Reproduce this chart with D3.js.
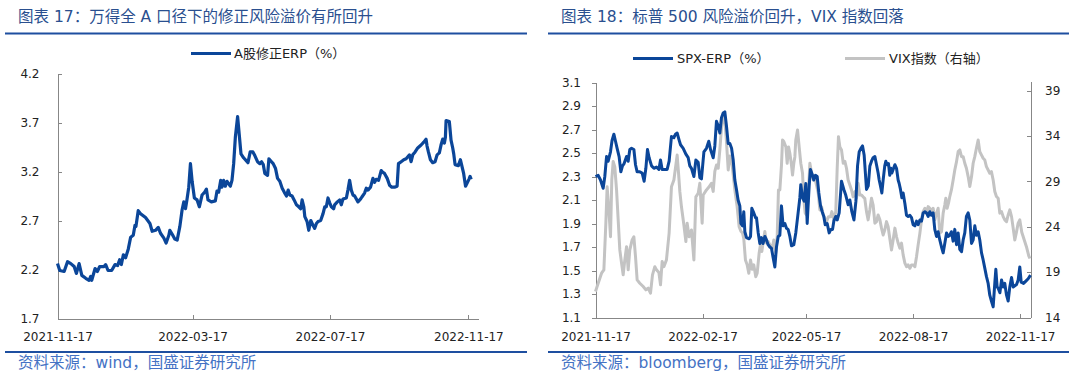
<!DOCTYPE html>
<html><head><meta charset="utf-8">
<script src="https://cdn.jsdelivr.net/npm/d3@7"></script>
<style>
body{margin:0;background:#fff}
svg{display:block}
.ax text{font-family:"DejaVu Sans","Noto Sans CJK SC",sans-serif;font-size:12px;fill:#222}
.ax path,.ax line{stroke:#878787;stroke-width:1;shape-rendering:crispEdges}
</style>
</head><body>
<svg id="c" width="1080" height="379"></svg>
<script>
// ---- data (days after the start date) ----
const startDate = "2021-11-17";
const axisEndDate = "2022-11-26";

const aShareDays = [0,2,5.9,8.9,11.8,14.8,16.8,19.2,21.6,25.1,28,29.5,30.4,33.4,35.4,37.5,41.3,42.8,44.9,48.1,51.1,53.4,55.2,56.7,58.5,60.5,62.9,65,67.3,68.8,69.7,71.7,73.8,78.2,82.1,84.1,87.1,89.5,91.5,94.5,96.5,98.9,99.8,101.9,104.2,106.3,108.7,110.7,112.2,113.7,115.1,116.6,118.1,119.6,121.6,124,126,128.4,130.8,132.3,133.7,136.7,140.2,141.7,143.2,145,146.1,147.6,149.1,150.6,153.5,155,156.5,158,160,161.5,163,165.3,169.2,171.2,173.6,175.4,177.7,179.8,181.3,182.8,184.2,186.6,187.8,190.1,191.6,193.7,195.5,197.5,199.6,201.4,203.4,204.9,206.4,208.4,210.2,212.3,214.3,216.1,217.3,218.8,219.7,221.7,223.2,225,227,228.5,230,231.5,233.8,235.9,237.4,238.8,240.3,241.8,243.3,245.3,246.2,248.6,250.7,252.1,253.6,256.6,258,259.5,261,262.5,264,266.9,269.3,270.4,272.8,274.3,275.8,278.1,280.2,281.7,283.1,285.2,287.6,289.1,290.5,292.9,295,297,299.4,301.7,302.9,305.3,307.6,309.7,311.2,312.7,314.1,315.6,317.7,320,323,325.4,327.4,328.3,329.5,331.3,333.3,335.4,337.2,339.2,340.7,342.2,343.7,344.6,345.2,348.1,349.6,351.1,352,353.2,356.1,357.9,360.8,362.5,363.8,365.5,366.5,367.5];
const aShareERP = [2.26,2.19,2.18,2.28,2.26,2.23,2.16,2.26,2.14,2.11,2.09,2.13,2.09,2.21,2.18,2.23,2.23,2.25,2.19,2.19,2.25,2.24,2.30,2.25,2.35,2.32,2.41,2.53,2.55,2.65,2.64,2.80,2.77,2.73,2.67,2.59,2.60,2.63,2.57,2.52,2.47,2.55,2.60,2.56,2.51,2.50,2.64,2.81,2.89,2.82,2.92,3.04,3.28,3.10,2.93,2.91,2.84,2.96,2.99,3.02,2.91,2.89,2.90,3.00,2.99,3.11,3.04,3.11,3.05,3.10,3.05,3.11,3.28,3.55,3.76,3.57,3.38,3.34,3.29,3.40,3.40,3.36,3.30,3.28,3.30,3.27,3.18,3.16,3.33,3.30,3.28,3.23,3.13,3.10,3.03,2.99,2.95,3.01,2.96,2.95,2.91,2.86,2.84,2.82,2.91,2.84,2.74,2.69,2.60,2.70,2.65,2.62,2.67,2.69,2.70,2.77,2.84,2.84,2.93,2.88,2.84,2.82,2.86,2.89,2.91,2.86,2.92,2.93,3.01,3.11,3.01,2.96,2.95,2.89,2.92,2.94,2.98,3.03,3.01,3.04,3.13,3.09,3.12,3.11,3.21,3.19,3.18,3.13,3.06,3.04,3.04,3.05,3.28,3.30,3.32,3.33,3.35,3.37,3.30,3.37,3.40,3.44,3.47,3.50,3.53,3.46,3.40,3.32,3.29,3.30,3.37,3.39,3.47,3.53,3.49,3.55,3.72,3.71,3.52,3.44,3.38,3.27,3.26,3.32,3.18,3.05,3.08,3.12,3.15,3.12];

const spxDays = [0,2.3,4.3,6.6,8,9.5,10.9,12.9,14.3,15.8,17.2,18.6,20.3,21.8,23.2,24.6,26.7,28.1,29.5,31,33,34.4,35.8,38.1,40.1,41.8,43.3,44.7,46.1,48.2,50.2,52.4,54.5,55.9,57.3,59.6,61.6,63.3,65.3,67.4,68.8,70.2,71.9,73.1,75.4,77.7,79.7,81.1,82.5,84.6,86.3,88.3,89.7,91.1,93.2,95.4,97.4,98.9,101.2,102.6,104,105.5,106.9,108.3,109.8,111.2,112.6,114.1,115.5,117,118.4,119.8,121.2,122.6,124.1,125,126.4,127.5,128.4,129.8,132.1,133.3,134.4,136.1,137.6,138.4,139.9,141.3,142.7,144.1,145.6,147,148.4,149.9,151.3,152.7,154.2,155.6,157.1,158.5,159.9,161.3,162.8,164.2,165.6,167.1,168.5,170.5,172.2,174.2,175.7,176.5,178,179.4,180.8,182,183.7,184.8,186.6,187.7,189.1,190.6,192,193.5,194.9,196.3,197.5,199.2,200.9,202.3,203.8,204.9,206.6,207.8,209.5,211.5,213.5,215.2,217.2,218.7,220.4,222.2,223.9,225.3,226.7,228.2,229.6,231,233,234.5,235.9,237.3,238.7,240.2,241,242.2,243,243.9,245,246.2,247.3,248.7,249.6,250.8,251.9,253,253.9,254.8,255.9,257.4,258.8,260.2,261.1,262.2,263.4,264.5,266,267.4,268.8,270.3,271.7,273.1,274.6,276,277.4,278.9,280.3,281.7,283.2,284.6,286,287.4,288.9,290.3,291.7,293.2,294.6,296,297.5,298.9,300.3,301.8,303.2,304.6,306,307.5,308.9,310.4,311.8,313.2,314.7,316.1,317.5,318.9,320.4,321.8,323.3,324.7,326.1,327.5,329,330.4,331.9,333.3,334.7,336.1,337.6,339,340.4,341.9,343.3,344.2,345.3,346.2,347.7,349.1,350.5,351.9,353.4,354.8,356.2,357.7,359.1,362,363.4,364.8,366,368,370,372,374];
const spxERP = [2.30,2.31,2.27,2.20,2.30,2.47,2.43,2.51,2.61,2.66,2.60,2.54,2.47,2.34,2.39,2.41,2.47,2.43,2.53,2.54,2.53,2.40,2.34,2.34,2.33,2.26,2.37,2.53,2.46,2.39,2.37,2.38,2.36,2.44,2.36,2.36,2.36,2.43,2.64,2.63,2.66,2.67,2.61,2.57,2.54,2.49,2.46,2.39,2.37,2.30,2.44,2.42,2.29,2.28,2.51,2.54,2.60,2.53,2.46,2.56,2.77,2.73,2.67,2.80,2.84,2.85,2.73,2.58,2.58,2.54,2.44,2.27,2.19,2.10,2.05,1.90,1.88,2.00,1.83,1.78,1.77,1.79,2.03,1.99,1.95,1.95,1.82,1.73,1.78,1.73,1.79,1.76,1.72,1.70,1.69,1.61,1.53,1.70,1.79,1.80,2.05,1.88,1.90,1.86,1.85,1.79,1.71,1.72,1.82,1.99,2.12,2.23,2.12,2.09,2.24,1.90,2.22,2.36,2.31,2.27,2.31,2.30,2.16,2.05,2.00,1.96,1.89,1.90,1.82,1.85,1.85,1.92,1.96,1.93,1.99,2.26,2.19,2.14,2.06,2.10,2.00,1.93,2.09,2.39,2.51,2.54,2.56,2.48,2.19,2.22,2.39,2.43,2.46,2.47,2.43,2.37,2.33,2.27,2.22,2.16,2.27,2.39,2.43,2.40,2.41,2.31,2.37,2.33,2.36,2.40,2.37,2.27,2.24,2.19,2.12,2.16,2.07,1.97,1.96,1.97,1.95,1.89,1.88,1.92,1.89,1.93,1.92,1.99,2.00,1.99,1.96,2.00,1.97,1.99,1.85,1.79,1.83,1.76,1.70,1.65,1.73,1.82,1.79,1.80,1.83,1.75,1.85,1.72,1.82,1.68,1.66,1.76,1.82,1.96,1.99,1.93,1.73,1.76,1.88,1.80,1.83,1.76,1.65,1.59,1.52,1.45,1.39,1.29,1.24,1.19,1.39,1.51,1.36,1.35,1.31,1.42,1.36,1.39,1.29,1.24,1.36,1.44,1.36,1.38,1.42,1.53,1.40,1.39,1.41,1.43,1.46];

const vixDays = [0,2.3,5.2,7.2,8.9,10,11.5,12.9,14,15.2,16.6,18.1,19.5,20.9,22.4,23.8,25.2,26.7,28.1,29.5,31.5,33,34.4,35.8,38.1,41,43.3,45.3,47.3,49,51,52.4,54.5,55.9,57.3,58.8,61,63.3,65.3,67.4,69.1,70.2,71.4,72.5,73.9,76,77.7,78.8,80.5,82.5,84.6,86.3,88.3,89.7,91.7,92.6,95.4,97.7,99.7,101.2,102.6,104,105.5,106.9,108.3,109.8,111.2,112.6,114.1,115.5,117.5,119.8,121.8,123.5,125,126.4,127.5,128.9,130.4,131.8,133.3,134.7,136.1,137.8,139,140.7,141.8,143,144.1,145.6,147,148.4,149.9,151.9,153.3,155,156.2,157.3,158.5,159.9,160.8,161.9,163.7,164.8,166,167.1,168.5,169.4,170.5,171.4,172.2,173.7,175.1,176.5,178,179.1,180.3,181.4,182.9,184.3,185.8,187.2,188.6,190,191.5,192.9,194.4,195.8,197.2,198.6,200.3,202.1,203.2,204.9,206.6,207.8,208.9,210.1,211.5,213,214.4,215.8,217.2,218.7,220.1,221.5,223.2,224.4,225.8,227.2,228.7,230.1,231.5,233,234.4,235.9,237.3,238.7,240.2,241.6,243,244.5,245.9,247.3,248.7,250.2,251.6,253,254.5,255.9,257.4,258.8,260.2,261.7,263.1,264.5,266,267.4,268.8,270.3,271.7,273.1,274.6,276,277.4,278.9,280.3,281.7,283.2,284.6,286,287.4,288.9,290.3,291.7,293.2,294.6,296,297.5,298.9,300.3,301.2,302.3,303.5,304.6,306,307.5,308.9,310.4,311.8,313.2,314.7,316.1,317.5,318.9,320.4,321.8,323.3,324.7,326.1,327.5,329,330.4,331.9,333.3,334.7,336.1,337.6,339,340.4,341.9,343.3,344.7,346.2,347.6,349.1,350.5,351.9,353.4,354.8,356.2,357.7,359.1,360.5,362,363.4,364.8,366.5,368.5,370.5,372.5,373.5];
const vixVals = [16.86,17.78,18.88,19.25,24.4,28.4,25.86,22.9,29.16,31.2,30.6,28.06,24.76,21.45,20.0,18.7,20.35,21.8,19.25,21.45,22.55,22.9,20.7,18.15,17.78,17.41,17.05,17.23,16.68,18.7,19.6,19.25,18.95,17.6,20.17,19.6,20.35,23.3,28.4,29.16,30.8,31.9,29.9,27.9,26.2,24.2,22.37,24.4,22.9,23.65,20.35,27.3,27.7,28.8,24.4,27.5,28.06,28.4,28.8,27.9,30.1,30.8,30.45,32.47,34.85,36.5,35.77,33.4,30.26,31.8,30.8,28.06,26.2,24.0,23.5,23.3,22.7,20.35,19.8,18.88,20.35,19.32,19.8,18.5,18.88,21.1,22.0,21.27,22.26,23.47,22.2,22.4,22.0,21.6,22.55,21.1,22.9,28.06,28.06,30.8,33.57,33.4,32.8,31.0,32.8,32.1,30.8,29.7,31.0,31.7,33.57,34.67,32.8,31.0,29.9,26.96,25.5,25.3,27.3,31.0,29.9,29.16,29.35,28.6,27.7,25.86,26.2,25.3,24.94,24.57,25.1,25.1,25.67,24.76,25.67,30.45,33.93,32.8,32.47,31.0,31.2,30.45,29.16,28.6,28.06,27.3,27.88,27.14,28.8,27.5,27.5,27.3,27.14,25.67,24.76,25.9,27.14,26.4,24.4,24.57,25.3,24.76,23.85,23.1,23.65,24.57,24.0,22.74,21.45,22.55,23.85,22.9,22.2,21.64,22.2,20.9,20.0,19.6,19.8,19.43,19.8,19.8,19.6,20.7,22.0,23.3,24.76,25.67,26.04,25.5,26.22,26.04,25.67,26.04,24.76,25.5,26.04,23.3,23.47,25.5,26.4,27.14,26.04,26.6,27.33,28.06,29.16,30.26,31.18,32.28,32.47,31.73,31.73,31.0,30.45,29.53,28.43,29.53,31.0,31.73,32.65,33.57,32.28,31.9,31.55,31.36,30.63,30.26,29.9,30.08,29.16,27.88,27.33,27.14,25.5,25.67,25.12,24.76,24.57,25.3,25.86,25.12,23.85,22.55,23.47,24.4,24.76,23.4,22.6,21.8,20.8,20.5];

const leftYTicks = [1.7,2.2,2.7,3.2,3.7,4.2];
const leftXTicks = ["2021-11-17","2022-03-17","2022-07-17","2022-11-17"];
const rightYTicks = [1.1,1.3,1.5,1.7,1.9,2.1,2.3,2.5,2.7,2.9,3.1];
const rightY2Ticks = [14,19,24,29,34,39];
const rightXTicks = ["2021-11-17","2022-02-17","2022-05-17","2022-08-17","2022-11-17"];

const titleLeft = "图表 17：万得全 A 口径下的修正风险溢价有所回升";
const titleRight = "图表 18：标普 500 风险溢价回升，VIX 指数回落";
const sourceLeft = "资料来源：wind，国盛证券研究所";
const sourceRight = "资料来源：bloomberg，国盛证券研究所";
const legendLeft = "A股修正ERP（%）";
const legendRight = ["SPX-ERP（%）","VIX指数（右轴）"];

// ---- drawing ----
const BLUE = "#0b4699", GREY = "#c3c3c3", HEAD = "#1e4fa0";
const FONT = '"DejaVu Sans","Noto Sans CJK SC",sans-serif';
const parse = d3.timeParse("%Y-%m-%d");
const base = parse(startDate);
const toDate = d => new Date(base.getTime() + d * 86400000);
const fmt = d3.timeFormat("%Y-%m-%d");
const svg = d3.select("#c");

function frame(x0, x1, title, source) {
  svg.append("text").attr("x", x0 + 13).attr("y", 22).text(title)
    .attr("font-family", FONT).attr("font-size", "15.5px").attr("fill", "#2a4f8f");
  svg.append("line").attr("x1", x0).attr("x2", x1).attr("y1", 33.5).attr("y2", 33.5)
    .attr("stroke", HEAD).attr("stroke-width", 2);
  svg.append("line").attr("x1", x0).attr("x2", x1).attr("y1", 352).attr("y2", 352)
    .attr("stroke", HEAD).attr("stroke-width", 2);
  svg.append("text").attr("x", x0 + 13).attr("y", 368).text(source)
    .attr("font-family", FONT).attr("font-size", "15.5px").attr("fill", "#4472c4");
}
frame(5, 527, titleLeft, sourceLeft);
frame(548, 1069, titleRight, sourceRight);

// left chart
{
  const x = d3.scaleTime().domain([base, parse(axisEndDate)]).range([57.5, 478.5]);
  const y = d3.scaleLinear().domain([1.7, 4.2]).range([318.5, 73.5]);
  svg.append("g").attr("class", "ax").attr("transform", "translate(57.5,0)")
    .call(d3.axisLeft(y).tickValues(leftYTicks).tickFormat(d3.format(".1f"))
      .tickSize(-4).tickSizeOuter(0).tickPadding(18));
  svg.append("g").attr("class", "ax").attr("transform", "translate(0,318.5)")
    .call(d3.axisBottom(x).tickValues(leftXTicks.map(parse)).tickFormat(fmt)
      .tickSize(-4).tickSizeOuter(0).tickPadding(14));
  const line = d3.line().x((d, i) => x(toDate(aShareDays[i]))).y(d => y(d));
  svg.append("path").datum(aShareERP).attr("d", line).attr("fill", "none")
    .attr("stroke", BLUE).attr("stroke-width", 3.2).attr("stroke-linejoin", "round");
  svg.append("line").attr("x1", 191).attr("x2", 231).attr("y1", 53.5).attr("y2", 53.5)
    .attr("stroke", BLUE).attr("stroke-width", 3);
  svg.append("text").attr("x", 234).attr("y", 58).text(legendLeft)
    .attr("font-family", FONT).attr("font-size", "13px").attr("fill", "#222");
}

// right chart
{
  const x = d3.scaleTime().domain([base, parse(axisEndDate)]).range([595.5, 1030.5]);
  const y = d3.scaleLinear().domain([1.1, 3.1]).range([317.5, 82.5]);
  const y2 = d3.scaleLinear().domain([14, 40]).range([317.5, 81.6]);
  svg.append("g").attr("class", "ax").attr("transform", "translate(595.5,0)")
    .call(d3.axisLeft(y).tickValues(rightYTicks).tickFormat(d3.format(".1f"))
      .tickSize(4).tickSizeOuter(0).tickPadding(10.5));
  svg.append("g").attr("class", "ax").attr("transform", "translate(1030.5,0)")
    .call(d3.axisRight(y2).tickValues(rightY2Ticks).tickFormat(d3.format("d"))
      .tickSize(-4).tickSizeOuter(0).tickPadding(14.5));
  svg.append("g").attr("class", "ax").attr("transform", "translate(0,317.5)")
    .call(d3.axisBottom(x).tickValues(rightXTicks.map(parse)).tickFormat(fmt)
      .tickSize(-4).tickSizeOuter(0).tickPadding(14.5));
  const lineV = d3.line().x((d, i) => x(toDate(vixDays[i]))).y(d => y2(d));
  const lineS = d3.line().x((d, i) => x(toDate(spxDays[i]))).y(d => y(d));
  svg.append("path").datum(vixVals).attr("d", lineV).attr("fill", "none")
    .attr("stroke", GREY).attr("stroke-width", 3).attr("stroke-linejoin", "round");
  svg.append("path").datum(spxERP).attr("d", lineS).attr("fill", "none")
    .attr("stroke", BLUE).attr("stroke-width", 3).attr("stroke-linejoin", "round");
  const lg = [[633, 673, BLUE, 677], [845, 885, GREY, 889]];
  lg.forEach((l, i) => {
    svg.append("line").attr("x1", l[0]).attr("x2", l[1]).attr("y1", 58.5).attr("y2", 58.5)
      .attr("stroke", l[2]).attr("stroke-width", 3);
    svg.append("text").attr("x", l[3]).attr("y", 63).text(legendRight[i])
      .attr("font-family", FONT).attr("font-size", "13px").attr("fill", "#222");
  });
}
</script>
</body></html>
